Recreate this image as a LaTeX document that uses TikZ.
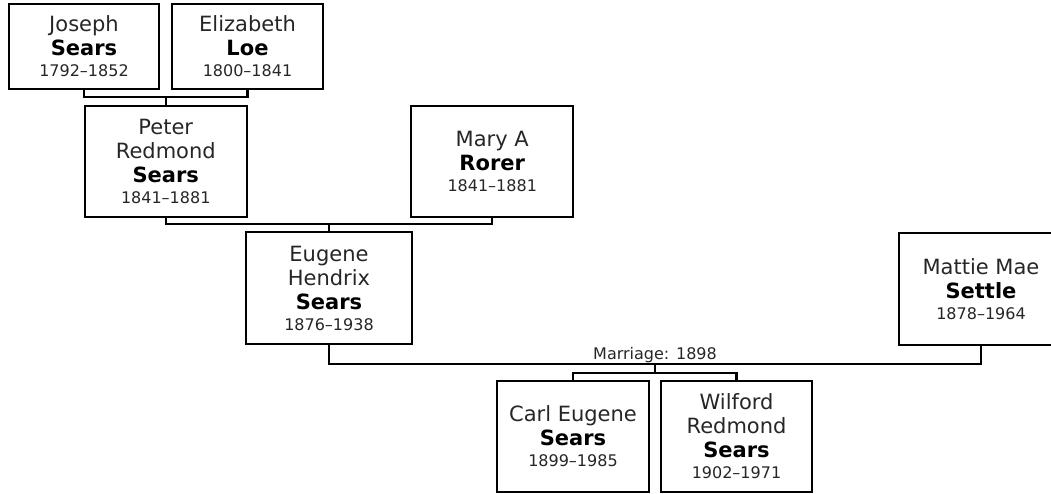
\documentclass[tikz,border=0pt]{standalone}
\usepackage{fontspec}
\setmainfont{DejaVu Sans}
\newcommand\namefont{\fontsize{21}{24}\selectfont}
\newcommand\yrfont{\fontsize{16}{19}\selectfont}
\newcommand\yrs[1]{\\[-3pt]{\yrfont #1}}
\newcommand\sur[1]{\textbf{\color{black}#1}}
\tikzset{
  person/.style={draw=black, line width=2.4pt, align=center, inner sep=0pt, font=\namefont, text=black!85},
  conn/.style={draw=black, line width=2.4pt},
  lbl/.style={font=\yrfont, text=black!85, inner sep=0pt, anchor=base}
}
\begin{document}
\begin{tikzpicture}[x=1pt,y=-1pt]
\useasboundingbox (0,0) rectangle (1051,493);
\clip (0,0) rectangle (1051,493);
% generation 1
\node[person, minimum width=150, minimum height=85] (joseph) at (84,46.5) {Joseph\\\sur{Sears}\yrs{1792–1852}};
\node[person, minimum width=151, minimum height=85] (elizabeth) at (247.5,46.5) {Elizabeth\\\sur{Loe}\yrs{1800–1841}};
% generation 2
\node[person, minimum width=162, minimum height=111] (peter) at (165.75,161.5) {Peter\\Redmond\\\sur{Sears}\yrs{1841–1881}};
\node[person, minimum width=162, minimum height=111] (mary) at (492.25,161.5) {Mary A\\\sur{Rorer}\yrs{1841–1881}};
% generation 3
\node[person, minimum width=166, minimum height=112] (eugene) at (329,288) {Eugene\\Hendrix\\\sur{Sears}\yrs{1876–1938}};
\node[person, minimum width=164, minimum height=112] (mattie) at (981,289) {Mattie Mae\\\sur{Settle}\yrs{1878–1964}};
% generation 4
\node[person, minimum width=152, minimum height=111] (carl) at (573,436.5) {Carl Eugene\\\sur{Sears}\yrs{1899–1985}};
\node[person, minimum width=151, minimum height=111] (wilford) at (736.5,436.5) {Wilford\\Redmond\\\sur{Sears}\yrs{1902–1971}};
% connectors
\coordinate (b1) at (165.75,97);
\draw[conn] (joseph.south) |- (b1) -| (elizabeth.south);
\draw[conn] (b1) -- (peter.north);
\coordinate (b2) at (329,224);
\draw[conn] (peter.south) |- (b2) -| (mary.south);
\draw[conn] (b2) -- (eugene.north);
\coordinate (m) at (655,364);
\draw[conn] (eugene.south) |- (m) -| (mattie.south);
\node[lbl] (mlabel) at (655,359) {Marriage: 1898};
\coordinate (k) at (655,373);
\draw[conn] (m) -- (k);
\draw[conn] (carl.north) |- (k) -| (wilford.north);
\end{tikzpicture}
\end{document}
